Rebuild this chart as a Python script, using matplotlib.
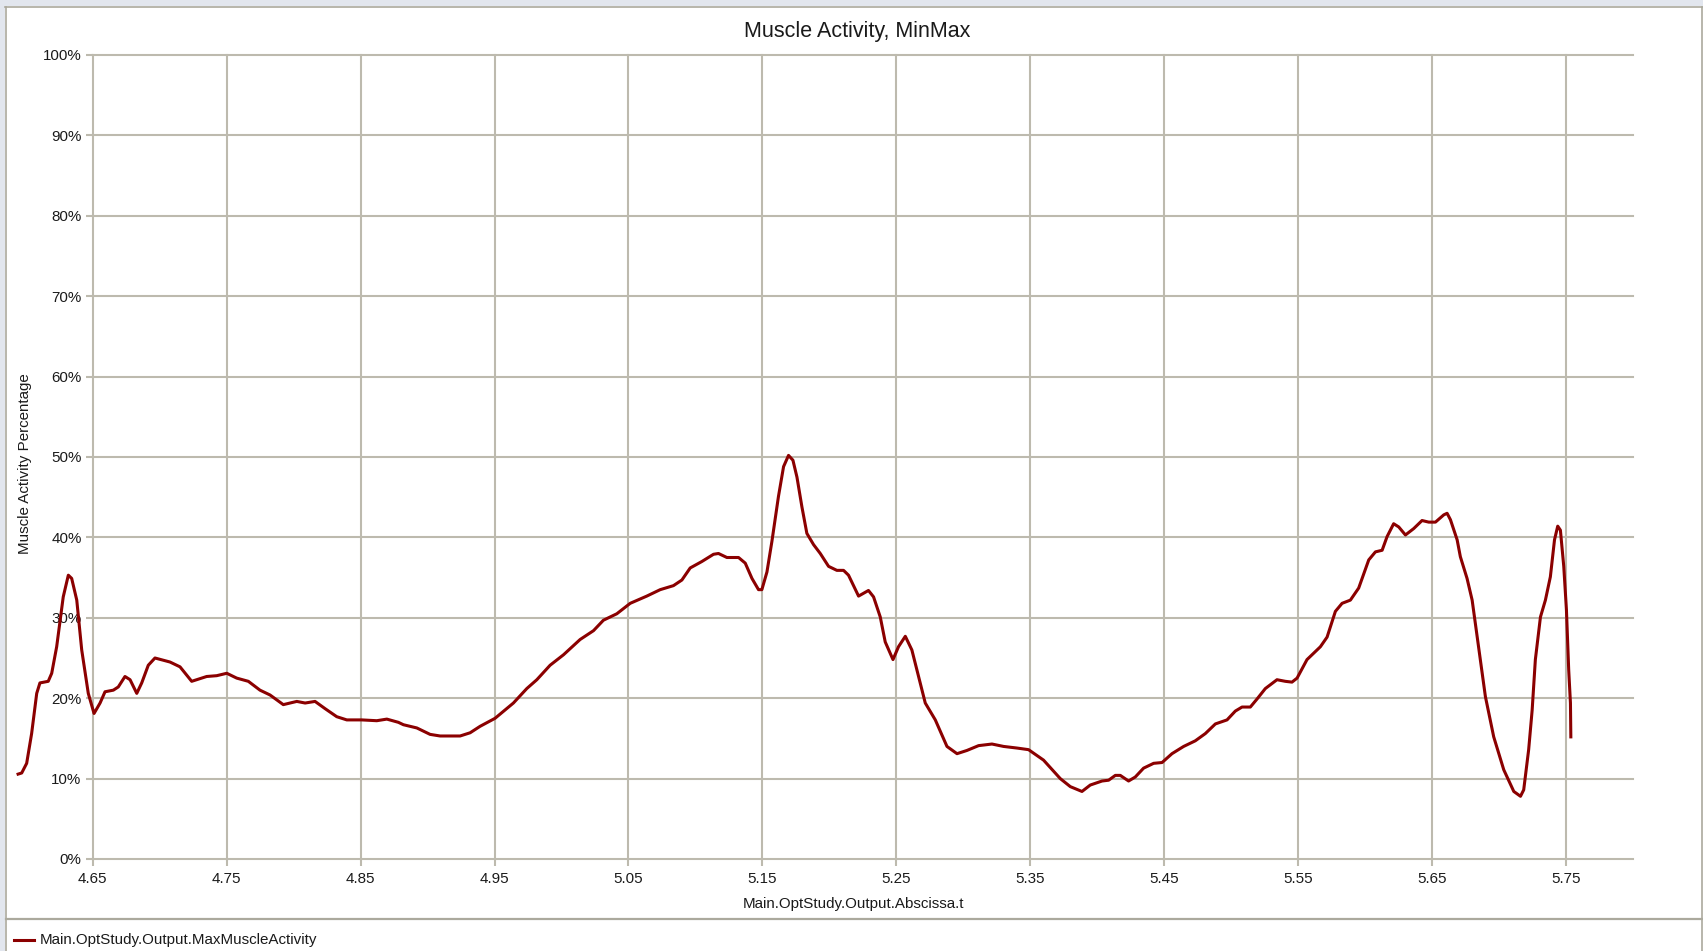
import matplotlib
matplotlib.use("Agg")
import matplotlib.pyplot as plt
from matplotlib.lines import Line2D
from matplotlib.patches import Rectangle

# --- data -----------------------------------------------------------------
time_s = [
    4.5932, 4.5970, 4.6007, 4.6044, 4.6082, 4.6106, 4.6168, 4.6194, 4.6231, 4.6280,
    4.6318, 4.6343, 4.6381, 4.6418, 4.6467, 4.6510, 4.6555, 4.6592, 4.6654, 4.6691,
    4.6741, 4.6779, 4.6829, 4.6866, 4.6915, 4.6965, 4.7077, 4.7152, 4.7239, 4.7351,
    4.7426, 4.7501, 4.7575, 4.7662, 4.7749, 4.7824, 4.7923, 4.8024, 4.8086, 4.8160,
    4.8235, 4.8322, 4.8397, 4.8509, 4.8621, 4.8696, 4.8782, 4.8820, 4.8920, 4.9019,
    4.9094, 4.9243, 4.9318, 4.9392, 4.9504, 4.9641, 4.9741, 4.9816, 4.9915, 5.0015,
    5.0139, 5.0239, 5.0313, 5.0413, 5.0513, 5.0637, 5.0737, 5.0836, 5.0899, 5.0961,
    5.1048, 5.1135, 5.1172, 5.1235, 5.1322, 5.1372, 5.1422, 5.1471, 5.1496, 5.1534,
    5.1571, 5.1620, 5.1658, 5.1695, 5.1728, 5.1758, 5.1795, 5.1832, 5.1882, 5.1932,
    5.1994, 5.2056, 5.2106, 5.2143, 5.2218, 5.2292, 5.2330, 5.2380, 5.2417, 5.2475,
    5.2516, 5.2567, 5.2616, 5.2666, 5.2716, 5.2791, 5.2878, 5.2953, 5.3027, 5.3114,
    5.3214, 5.3301, 5.3401, 5.3487, 5.3599, 5.3724, 5.3799, 5.3886, 5.3948, 5.4036,
    5.4085, 5.4135, 5.4172, 5.4234, 5.4284, 5.4346, 5.4421, 5.4484, 5.4558, 5.4645,
    5.4732, 5.4807, 5.4882, 5.4969, 5.5031, 5.5081, 5.5143, 5.5193, 5.5255, 5.5342,
    5.5404, 5.5454, 5.5492, 5.5566, 5.5666, 5.5716, 5.5778, 5.5828, 5.5890, 5.5952,
    5.6027, 5.6077, 5.6127, 5.6164, 5.6213, 5.6251, 5.6301, 5.6363, 5.6425, 5.6475,
    5.6525, 5.6587, 5.6612, 5.6637, 5.6687, 5.6711, 5.6761, 5.6799, 5.6823, 5.6861,
    5.6898, 5.6960, 5.7035, 5.7110, 5.7160, 5.7184, 5.7221, 5.7247, 5.7271, 5.7309,
    5.7346, 5.7383, 5.7414, 5.7438, 5.7458, 5.7483, 5.7503, 5.7520, 5.7533, 5.7536,
]
activity_pct = [
    10.5, 10.7, 11.9, 15.6, 20.6, 21.9, 22.1, 23.1, 26.4, 32.6,
    35.3, 34.9, 32.2, 26.0, 20.6, 18.1, 19.4, 20.8, 21.0, 21.4,
    22.7, 22.3, 20.6, 21.9, 24.1, 25.0, 24.5, 23.9, 22.1, 22.7,
    22.8, 23.1, 22.5, 22.1, 21.0, 20.4, 19.2, 19.6, 19.4, 19.6,
    18.7, 17.7, 17.3, 17.3, 17.2, 17.4, 17.0, 16.7, 16.3, 15.5,
    15.3, 15.3, 15.7, 16.5, 17.5, 19.4, 21.2, 22.3, 24.1, 25.4,
    27.3, 28.4, 29.7, 30.5, 31.8, 32.7, 33.5, 34.0, 34.7, 36.2,
    37.0, 37.9, 38.0, 37.5, 37.5, 36.8, 34.9, 33.5, 33.5, 35.7,
    39.5, 45.1, 48.8, 50.2, 49.6, 47.5, 43.8, 40.5, 39.1, 38.0,
    36.4, 35.9, 35.9, 35.3, 32.7, 33.4, 32.6, 30.1, 27.0, 24.8,
    26.4, 27.7, 26.0, 22.7, 19.4, 17.3, 14.0, 13.1, 13.5, 14.1,
    14.3, 14.0, 13.8, 13.6, 12.3, 10.0, 9.0, 8.4, 9.2, 9.7,
    9.8, 10.4, 10.4, 9.7, 10.2, 11.3, 11.9, 12.0, 13.1, 14.0,
    14.7, 15.6, 16.8, 17.3, 18.4, 18.9, 18.9, 19.9, 21.2, 22.3,
    22.1, 22.0, 22.5, 24.8, 26.4, 27.6, 30.8, 31.8, 32.2, 33.7,
    37.2, 38.2, 38.4, 40.1, 41.7, 41.3, 40.3, 41.1, 42.1, 41.9,
    41.9, 42.8, 43.0, 42.2, 39.7, 37.6, 34.9, 32.2, 29.3, 24.8,
    20.2, 15.2, 11.1, 8.4, 7.8, 8.6, 13.6, 18.5, 24.8, 30.1,
    32.2, 35.1, 39.7, 41.4, 40.9, 36.4, 31.0, 23.5, 19.4, 15.0,
]

x_ticks = [4.65, 4.75, 4.85, 4.95, 5.05, 5.15, 5.25, 5.35, 5.45, 5.55, 5.65, 5.75]
x_tick_labels = ["4.65", "4.75", "4.85", "4.95", "5.05", "5.15",
                 "5.25", "5.35", "5.45", "5.55", "5.65", "5.75"]
y_ticks = [0, 10, 20, 30, 40, 50, 60, 70, 80, 90, 100]
y_tick_labels = ["0%", "10%", "20%", "30%", "40%", "50%",
                 "60%", "70%", "80%", "90%", "100%"]

title = "Muscle Activity, MinMax"
x_label = "Main.OptStudy.Output.Abscissa.t"
y_label = "Muscle Activity Percentage"
series_name = "Main.OptStudy.Output.MaxMuscleActivity"

# --- style ----------------------------------------------------------------
plt.rcParams["font.family"] = ["Liberation Sans", "DejaVu Sans"]
W, H = 1703, 951
GRID = "#BDBAAE"
LINE = "#8B0000"
TEXT = "#1A1A1A"
FRAME = "#ABA99D"
BAND = "#E2E6EE"
SMALL = 10.9


def fx(px):
    return px / W


def fy(py):
    return 1 - py / H


fig = plt.figure(figsize=(W / 100, H / 100), dpi=100)
fig.patch.set_facecolor("white")

# window border
fig.add_artist(Rectangle((0, fy(6)), 1, 6 / H, transform=fig.transFigure,
                         facecolor=BAND, edgecolor="none"))
fig.add_artist(Rectangle((0, 0), 5 / W, 1, transform=fig.transFigure,
                         facecolor=BAND, edgecolor="none"))
fig.add_artist(Line2D([fx(5), 1], [fy(6.5), fy(6.5)], transform=fig.transFigure,
                      color=FRAME, lw=1.2))
fig.add_artist(Line2D([fx(5.5), fx(5.5)], [0, fy(6.5)], transform=fig.transFigure,
                      color=FRAME, lw=1.2))
fig.add_artist(Line2D([fx(1702), fx(1702)], [0, fy(6.5)], transform=fig.transFigure,
                      color=FRAME, lw=1.2))
fig.add_artist(Line2D([fx(5.5), 1], [fy(918.5), fy(918.5)], transform=fig.transFigure,
                      color=FRAME, lw=1.6))

# plot area
ax = fig.add_axes([fx(92.7), fy(859), fx(1633) - fx(92.7), fy(55) - fy(859)])
ax.set_facecolor("none")
ax.plot(time_s, activity_pct, color=LINE, lw=2.2, clip_on=False,
        solid_joinstyle="round", solid_capstyle="butt", zorder=3)
ax.set_xlim(4.65, 5.80)
ax.set_ylim(0, 100)
ax.set_xticks(x_ticks, x_tick_labels)
ax.set_yticks(y_ticks, y_tick_labels)
for s in ax.spines.values():
    s.set_visible(False)
ax.grid(True, color=GRID, lw=1.5)
ax.set_axisbelow(True)
for gl in ax.xaxis.get_gridlines() + ax.yaxis.get_gridlines():
    gl.set_clip_on(False)
ax.tick_params(axis="both", length=5, width=1.5, color=GRID,
               labelsize=SMALL, labelcolor=TEXT)
ax.tick_params(axis="x", pad=4.5)
ax.tick_params(axis="y", pad=3)

# titles
fig.text(fx(857), fy(31), title, ha="center", va="center", fontsize=15.5, color=TEXT)
fig.text(fx(854), fy(904), x_label, ha="center", va="center", fontsize=SMALL, color=TEXT)
fig.text(fx(25.5), fy(464), y_label, ha="center", va="center", rotation=90,
         fontsize=SMALL, color=TEXT)

# legend strip
fig.add_artist(Line2D([fx(14), fx(34)], [fy(940), fy(940)], transform=fig.transFigure,
                      color=LINE, lw=2.2))
fig.text(fx(40), fy(940), series_name, ha="left", va="center", fontsize=SMALL, color=TEXT)

fig.savefig("out.png", dpi=100, facecolor="white")
